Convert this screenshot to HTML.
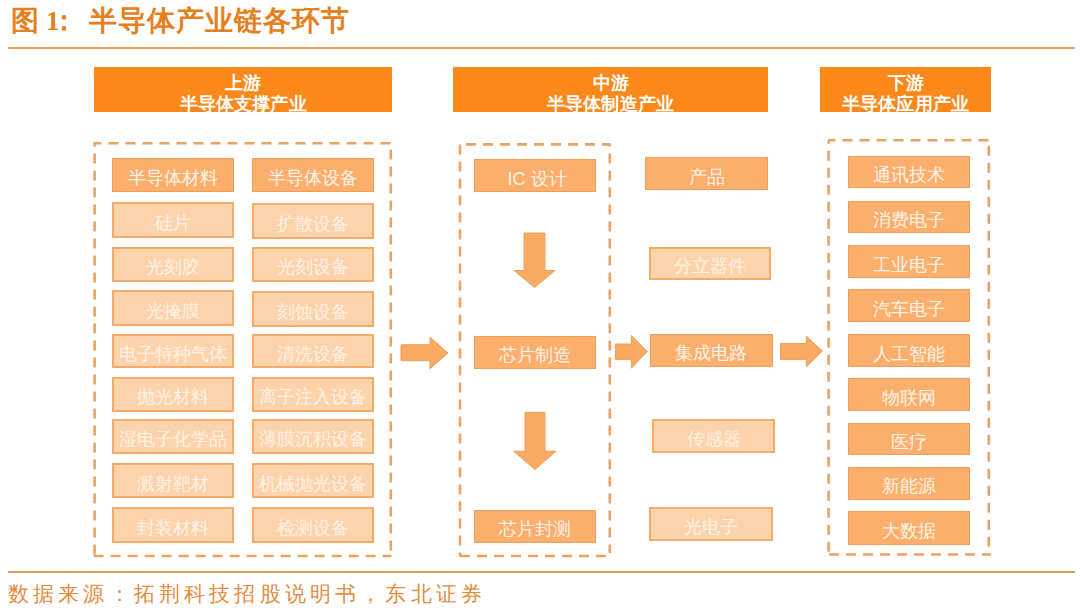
<!DOCTYPE html>
<html><head><meta charset="utf-8"><title>图 1：半导体产业链各环节</title>
<style>
html,body{margin:0;padding:0;background:#fff;}
body{width:1080px;height:610px;position:relative;overflow:hidden;font-family:"Liberation Sans",sans-serif;}
.j{display:inline-block;text-align:justify;text-align-last:justify;text-justify:inter-character;white-space:nowrap;}
.t{position:absolute;top:4px;left:0;height:34px;font-size:28px;font-weight:bold;color:#E58020;line-height:34px;white-space:nowrap;}
.t span{position:absolute;top:0;}
.t .one{left:46px;font-family:"Liberation Serif",serif;font-size:27px;}
.ln{position:absolute;left:8px;width:1067px;height:2px;background:#EA9A52;}
.h{position:absolute;top:66.5px;height:45.5px;background:#FC8819;color:#fff;font-weight:bold;font-size:18px;line-height:20px;}
.h span{position:absolute;}
.b{position:absolute;box-sizing:border-box;color:#FFF3E6;font-size:18px;line-height:20px;}
.b span{position:absolute;}
.m{background:#FCAE6D;box-shadow:inset 0 0 0 1px #F09F58;}
.l{background:#FDD3AC;border:2px solid #F4AA68;color:rgba(255,255,255,0.7);}
.f{position:absolute;top:580px;left:8px;width:474px;height:28px;font-size:21px;color:#E38C3E;line-height:28px;}
svg{position:absolute;left:0;top:0;}
</style></head>
<body>
<div class="t"><span style="left:11px">图</span><span class="one">1</span><span style="left:50px">：</span><span class="j" style="left:89px;width:260px">半导体产业链各环节</span></div>
<div class="ln" style="top:47.3px"></div>
<div class="h" style="left:94px;width:298px"><span class="j" style="left:131.0px;top:6px;width:36px">上游</span><span class="j" style="left:85.5px;top:27px;width:127px">半导体支撑产业</span></div>
<div class="h" style="left:453px;width:315px"><span class="j" style="left:139.5px;top:6px;width:36px">中游</span><span class="j" style="left:94.0px;top:27px;width:127px">半导体制造产业</span></div>
<div class="h" style="left:820px;width:171px"><span class="j" style="left:67.5px;top:6px;width:36px">下游</span><span class="j" style="left:22.0px;top:27px;width:127px">半导体应用产业</span></div>
<svg width="1080" height="610">
<path fill="none" stroke="#E8A264" stroke-width="2.6" d="M93.5 143.3H101.5M108.5 143.3H118.5M125.5 143.3H135.5M142.5 143.3H152.5M159.5 143.3H169.5M176.5 143.3H186.5M193.5 143.3H203.5M210.5 143.3H220.5M227.5 143.3H237.5M244.5 143.3H254.5M261.5 143.3H271.5M278.5 143.3H288.5M295.5 143.3H305.5M312.5 143.3H322.5M329.5 143.3H339.5M346.5 143.3H356.5M363.5 143.3H373.5M380.5 143.3H390.5M94.6 143.3V146.5M94.6 153.5V163.5M94.6 170.5V180.5M94.6 187.5V197.5M94.6 204.5V214.5M94.6 221.5V231.5M94.6 238.5V248.5M94.6 255.5V265.5M94.6 272.5V282.5M94.6 289.5V299.5M94.6 306.5V316.5M94.6 323.5V333.5M94.6 340.5V350.5M94.6 357.5V367.5M94.6 374.5V384.5M94.6 391.5V401.5M94.6 408.5V418.5M94.6 425.5V435.5M94.6 442.5V452.5M94.6 459.5V469.5M94.6 476.5V486.5M94.6 493.5V503.5M94.6 510.5V520.5M94.6 527.5V537.5M94.6 544.5V554.5M390.8 149.5V159.5M390.8 166.5V176.5M390.8 183.5V193.5M390.8 200.5V210.5M390.8 217.5V227.5M390.8 234.5V244.5M390.8 251.5V261.5M390.8 268.5V278.5M390.8 285.5V295.5M390.8 302.5V312.5M390.8 319.5V329.5M390.8 336.5V346.5M390.8 353.5V363.5M390.8 370.5V380.5M390.8 387.5V397.5M390.8 404.5V414.5M390.8 421.5V431.5M390.8 438.5V448.5M390.8 455.5V465.5M390.8 472.5V482.5M390.8 489.5V499.5M390.8 506.5V516.5M390.8 523.5V533.5M390.8 540.5V550.5M93.6 556H103.6M110.6 556H120.6M127.6 556H137.6M144.6 556H154.6M161.6 556H171.6M178.6 556H188.6M195.6 556H205.6M212.6 556H222.6M229.6 556H239.6M246.6 556H256.6M263.6 556H273.6M280.6 556H290.6M297.6 556H307.6M314.6 556H324.6M331.6 556H341.6M348.6 556H358.6M365.6 556H375.6M382.6 556H391.5M466.0 144.4H476.0M483.0 144.4H493.0M500.0 144.4H510.0M517.0 144.4H527.0M534.0 144.4H544.0M551.0 144.4H561.0M568.0 144.4H578.0M585.0 144.4H595.0M602.0 144.4H610.5M460 144.5V154.5M460 161.5V171.5M460 178.5V188.5M460 195.5V205.5M460 212.5V222.5M460 229.5V239.5M460 246.5V256.5M460 263.5V273.5M460 280.5V290.5M460 297.5V307.5M460 314.5V324.5M460 331.5V341.5M460 348.5V358.5M460 365.5V375.5M460 382.5V392.5M460 399.5V409.5M460 416.5V426.5M460 433.5V443.5M460 450.5V460.5M460 467.5V477.5M460 484.5V494.5M460 501.5V511.5M460 518.5V528.5M460 535.5V545.5M460 552.5V556.5M609.8 144.4V146.4M609.8 153.4V163.4M609.8 170.4V180.4M609.8 187.4V197.4M609.8 204.4V214.4M609.8 221.4V231.4M609.8 238.4V248.4M609.8 255.4V265.4M609.8 272.4V282.4M609.8 289.4V299.4M609.8 306.4V316.4M609.8 323.4V333.4M609.8 340.4V350.4M609.8 357.4V367.4M609.8 374.4V384.4M609.8 391.4V401.4M609.8 408.4V418.4M609.8 425.4V435.4M609.8 442.4V452.4M609.8 459.4V469.4M609.8 476.4V486.4M609.8 493.4V503.4M609.8 510.4V520.4M609.8 527.4V537.4M609.8 544.4V553.0M460.0 556H470.0M477.0 556H487.0M494.0 556H504.0M511.0 556H521.0M528.0 556H538.0M545.0 556H555.0M562.0 556H572.0M579.0 556H589.0M596.0 556H606.0M828.0 140.3H835.5M842.5 140.3H852.5M859.5 140.3H869.5M876.5 140.3H886.5M893.5 140.3H903.5M910.5 140.3H920.5M927.5 140.3H937.5M944.5 140.3H954.5M961.5 140.3H971.5M978.5 140.3H988.5M828.6 140.3V143.7M828.6 150.7V160.7M828.6 167.7V177.7M828.6 184.7V194.7M828.6 201.7V211.7M828.6 218.7V228.7M828.6 235.7V245.7M828.6 252.7V262.7M828.6 269.7V279.7M828.6 286.7V296.7M828.6 303.7V313.7M828.6 320.7V330.7M828.6 337.7V347.7M828.6 354.7V364.7M828.6 371.7V381.7M828.6 388.7V398.7M828.6 405.7V415.7M828.6 422.7V432.7M828.6 439.7V449.7M828.6 456.7V466.7M828.6 473.7V483.7M828.6 490.7V500.7M828.6 507.7V517.7M828.6 524.7V534.7M828.6 541.7V551.7M988.8 145.8V155.8M988.8 162.8V172.8M988.8 179.8V189.8M988.8 196.8V206.8M988.8 213.8V223.8M988.8 230.8V240.8M988.8 247.8V257.8M988.8 264.8V274.8M988.8 281.8V291.8M988.8 298.8V308.8M988.8 315.8V325.8M988.8 332.8V342.8M988.8 349.8V359.8M988.8 366.8V376.8M988.8 383.8V393.8M988.8 400.8V410.8M988.8 417.8V427.8M988.8 434.8V444.8M988.8 451.8V461.8M988.8 468.8V478.8M988.8 485.8V495.8M988.8 502.8V512.8M988.8 519.8V529.8M988.8 536.8V546.8M988.8 553.8V555.0M829.0 554.5H839.0M846.0 554.5H856.0M863.0 554.5H873.0M880.0 554.5H890.0M897.0 554.5H907.0M914.0 554.5H924.0M931.0 554.5H941.0M948.0 554.5H958.0M965.0 554.5H975.0M982.0 554.5H991.0"/>
<g fill="#F8A962" stroke="#F0A05C" stroke-width="1">
<path d="M524 233 H545 V270.5 H555 L534.5 287.5 L514 270.5 H524 Z"/>
<path d="M525 412.3 H545 V451.2 H556 L535 469.5 L513.7 451.2 H525 Z"/>
<path d="M401 344.7 H430 V337.2 L448 353 L430 368.8 V360.7 H401 Z"/>
<path d="M615.3 344 H631.4 V335.5 L647.4 351.5 L631.4 368.2 V359.6 H615.3 Z"/>
<path d="M780.5 343.5 H806.3 V336 L822.4 351 L806.3 367 V359.6 H780.5 Z"/>
</g>
</svg>
<div class="b m" style="left:112px;top:158px;width:122px;height:34px"><span class="j" style="left:16.0px;top:10.0px;width:90px">半导体材料</span></div>
<div class="b l" style="left:112px;top:202px;width:122px;height:36px"><span class="j" style="left:41.0px;top:9.0px;width:36px">硅片</span></div>
<div class="b l" style="left:112px;top:246.5px;width:122px;height:35px"><span class="j" style="left:32.0px;top:8.5px;width:54px">光刻胶</span></div>
<div class="b l" style="left:112px;top:289.5px;width:122px;height:36px"><span class="j" style="left:32.0px;top:9.0px;width:54px">光掩膜</span></div>
<div class="b l" style="left:112px;top:333.5px;width:122px;height:34.5px"><span class="j" style="left:5.0px;top:8.2px;width:108px">电子特种气体</span></div>
<div class="b l" style="left:112px;top:376.5px;width:122px;height:35px"><span class="j" style="left:23.0px;top:8.5px;width:72px">抛光材料</span></div>
<div class="b l" style="left:112px;top:418.5px;width:122px;height:35px"><span class="j" style="left:5.0px;top:8.5px;width:108px">湿电子化学品</span></div>
<div class="b l" style="left:112px;top:463px;width:122px;height:35px"><span class="j" style="left:23.0px;top:8.5px;width:72px">溅射靶材</span></div>
<div class="b l" style="left:112px;top:507px;width:122px;height:36px"><span class="j" style="left:23.0px;top:9.0px;width:72px">封装材料</span></div>
<div class="b m" style="left:251.5px;top:158px;width:122.5px;height:34px"><span class="j" style="left:16.2px;top:10.0px;width:90px">半导体设备</span></div>
<div class="b l" style="left:251.5px;top:203px;width:122.5px;height:36px"><span class="j" style="left:23.2px;top:9.0px;width:72px">扩散设备</span></div>
<div class="b l" style="left:251.5px;top:246.5px;width:122.5px;height:35px"><span class="j" style="left:23.2px;top:8.5px;width:72px">光刻设备</span></div>
<div class="b l" style="left:251.5px;top:290.5px;width:122.5px;height:36px"><span class="j" style="left:23.2px;top:9.0px;width:72px">刻蚀设备</span></div>
<div class="b l" style="left:251.5px;top:333.5px;width:122.5px;height:34.5px"><span class="j" style="left:23.2px;top:8.2px;width:72px">清洗设备</span></div>
<div class="b l" style="left:251.5px;top:376.5px;width:122.5px;height:35px"><span class="j" style="left:5.2px;top:8.5px;width:108px">离子注入设备</span></div>
<div class="b l" style="left:251.5px;top:418.5px;width:122.5px;height:35px"><span class="j" style="left:5.2px;top:8.5px;width:108px">薄膜沉积设备</span></div>
<div class="b l" style="left:251.5px;top:463px;width:122.5px;height:35px"><span class="j" style="left:5.2px;top:8.5px;width:108px">机械抛光设备</span></div>
<div class="b l" style="left:251.5px;top:507px;width:122.5px;height:36px"><span class="j" style="left:23.2px;top:9.0px;width:72px">检测设备</span></div>
<div class="b m" style="left:473.5px;top:158.8px;width:122px;height:33.5px"><span class="j" style="left:34.0px;top:9.8px;width:54px">IC 设计</span></div>
<div class="b m" style="left:473.5px;top:335.7px;width:122px;height:33px"><span class="j" style="left:25.0px;top:9.5px;width:72px">芯片制造</span></div>
<div class="b m" style="left:473.5px;top:509.7px;width:122px;height:33.5px"><span class="j" style="left:25.0px;top:9.8px;width:72px">芯片封测</span></div>
<div class="b m" style="left:645px;top:157px;width:123px;height:33px"><span class="j" style="left:43.5px;top:9.5px;width:36px">产品</span></div>
<div class="b l" style="left:648.6px;top:247px;width:122.5px;height:32.6px"><span class="j" style="left:23.2px;top:7.3px;width:72px">分立器件</span></div>
<div class="b m" style="left:649.5px;top:333.8px;width:123.5px;height:33.2px"><span class="j" style="left:25.8px;top:9.6px;width:72px">集成电路</span></div>
<div class="b l" style="left:652.4px;top:419.2px;width:122.8px;height:33.5px"><span class="j" style="left:32.4px;top:7.8px;width:54px">传感器</span></div>
<div class="b l" style="left:649.2px;top:507px;width:124px;height:33.5px"><span class="j" style="left:33.0px;top:7.8px;width:54px">光电子</span></div>
<div class="b m" style="left:847.7px;top:155.8px;width:122.5px;height:32.7px"><span class="j" style="left:25.2px;top:9.4px;width:72px">通讯技术</span></div>
<div class="b m" style="left:847.7px;top:200.5px;width:122.5px;height:32.7px"><span class="j" style="left:25.2px;top:9.4px;width:72px">消费电子</span></div>
<div class="b m" style="left:847.7px;top:245.3px;width:122.5px;height:32.7px"><span class="j" style="left:25.2px;top:9.4px;width:72px">工业电子</span></div>
<div class="b m" style="left:847.7px;top:289px;width:122.5px;height:33px"><span class="j" style="left:25.2px;top:9.5px;width:72px">汽车电子</span></div>
<div class="b m" style="left:847.7px;top:334.4px;width:122.5px;height:32.8px"><span class="j" style="left:25.2px;top:9.4px;width:72px">人工智能</span></div>
<div class="b m" style="left:847.7px;top:378.2px;width:122.5px;height:32.8px"><span class="j" style="left:34.2px;top:9.4px;width:54px">物联网</span></div>
<div class="b m" style="left:847.7px;top:422.5px;width:122.5px;height:32.8px"><span class="j" style="left:43.2px;top:9.4px;width:36px">医疗</span></div>
<div class="b m" style="left:847.7px;top:466.8px;width:122.5px;height:32.8px"><span class="j" style="left:34.2px;top:9.4px;width:54px">新能源</span></div>
<div class="b m" style="left:847.7px;top:510.6px;width:122.5px;height:34px"><span class="j" style="left:34.2px;top:10.0px;width:54px">大数据</span></div>
<div class="ln" style="top:571.3px;background:#E29650"></div>
<div class="f"><span class="j" style="width:474px">数据来源：拓荆科技招股说明书，东北证券</span></div>
</body></html>
